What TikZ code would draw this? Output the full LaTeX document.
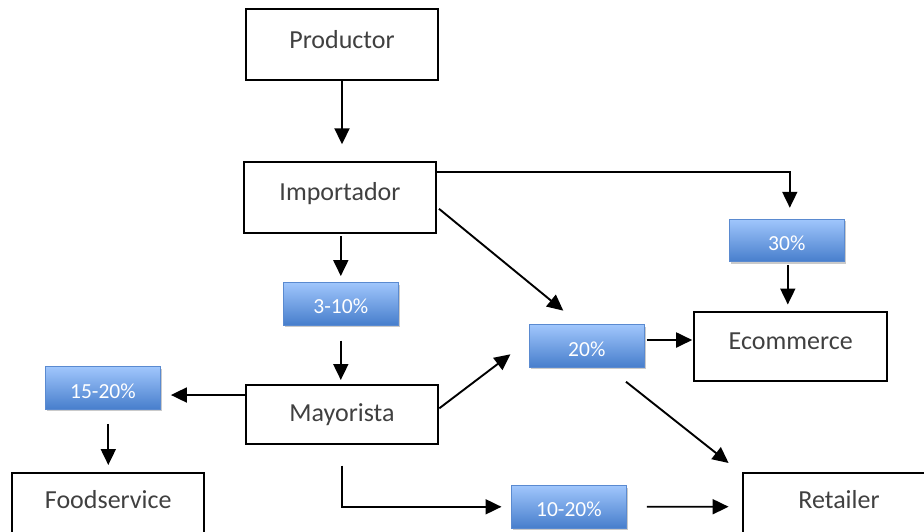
\documentclass[tikz,border=0pt]{standalone}
\usepackage{fontspec}
\setmainfont{Carlito}
\usetikzlibrary{arrows.meta,shadows}
\definecolor{txtgray}{HTML}{404040}
\definecolor{bluetop}{HTML}{A0C6FC}
\definecolor{bluebot}{HTML}{477ECC}
\definecolor{blueedge}{HTML}{5A8AD0}
\tikzset{
  mainbox/.style={draw=black, line width=2pt, minimum width=192pt, minimum height=71pt,
    inner sep=0pt, text=txtgray, font=\fontsize{26}{30}\selectfont,
    text height=20pt, text depth=#1},
  pctbox/.style={draw=blueedge, line width=1pt, top color=bluetop, bottom color=bluebot,
    minimum width=115pt, minimum height=42.5pt, inner sep=0pt, text=white,
    font=\fontsize{21.5}{25}\selectfont, text height=20pt, text depth=0pt,
    drop shadow={shadow xshift=1.5pt, shadow yshift=-2pt, opacity=0.35, fill=black!60}},
  arr/.style={line width=1.9pt, -{Triangle[length=16pt,width=15pt]}}
}
\begin{document}
\begin{tikzpicture}[x=1pt,y=-1pt]
\useasboundingbox (0,0) rectangle (924,531);
% main boxes
\node[mainbox=12.4pt, minimum height=70.7pt] (prod) at (342,44.7) {Productor};
\node[mainbox=15.4pt] (imp) at (340,197.8) {Importador};
\node[mainbox=5.8pt, minimum height=59pt, minimum width=192.6pt] (may) at (342,414.5) {Mayorista};
\node[mainbox=17.4pt, minimum height=68pt] (food) at (108.3,507) {Foodservice};
\node[mainbox=15.6pt, minimum height=68pt] (retail) at (839,506.7) {Retailer};
\node[mainbox=15.4pt, minimum height=69pt, minimum width=193pt] (ecom) at (790.7,346.7) {Ecommerce};
% percentage boxes
\node[pctbox] (p30) at (786.8,240.5) {30\%};
\node[pctbox] (p20) at (586.8,346) {20\%};
\node[pctbox] (p310) at (340.8,303.8) {3-10\%};
\node[pctbox] (p1520) at (102.9,388) {15-20\%};
\node[pctbox] (p1020) at (568.9,506.8) {10-20\%};
% connectors
\draw[arr, shorten >=17pt] (prod.south) -- (prod.south |- imp.north);
\draw[arr, shorten <=1.7pt, shorten >=6pt] (imp.south -| p310.north) -- (p310.north);
\draw[arr, shorten <=15pt, shorten >=4pt] (p310.south) -- (p310.south |- may.north);
\draw[arr, shorten >=10pt] ([yshift=19.5pt]may.west) -- ([yshift=19.5pt]may.west -| p1520.east);
\draw[arr, shorten <=14pt, shorten >=7pt] (p1520.south -| food.north) -- (food.north);
\draw[arr, shorten <=20.5pt, shorten >=9.4pt] (may.south) |- (p1020.west);
\draw[arr, shorten <=20pt, shorten >=13.4pt] (p1020.east) -- (retail.west);
\draw[arr] ([xshift=39.2pt,yshift=-14pt]p20.south) -- ([xshift=-13.4pt,yshift=8.7pt]retail.north west);
\draw[arr, shorten <=1.7pt, shorten >=1pt] ([yshift=6pt]p20.east) -- ([yshift=6pt]p20.east -| ecom.west);
\draw[arr, shorten >=11pt] ([yshift=-11pt]imp.north east) -| ([xshift=3pt]p30.north);
\draw[arr, shorten <=2.5pt, shorten >=6.7pt] ([xshift=1pt]p30.south) -- ([xshift=1pt]p30.south |- ecom.north);
\draw[arr] ([xshift=2pt,yshift=-11pt]imp.east) -- ([xshift=-23.5pt,yshift=13.6pt]p20.north);
\draw[arr] ([yshift=6.2pt]may.east) -- ([xshift=-18.3pt,yshift=-8.3pt]p20.west);
\end{tikzpicture}
\end{document}
